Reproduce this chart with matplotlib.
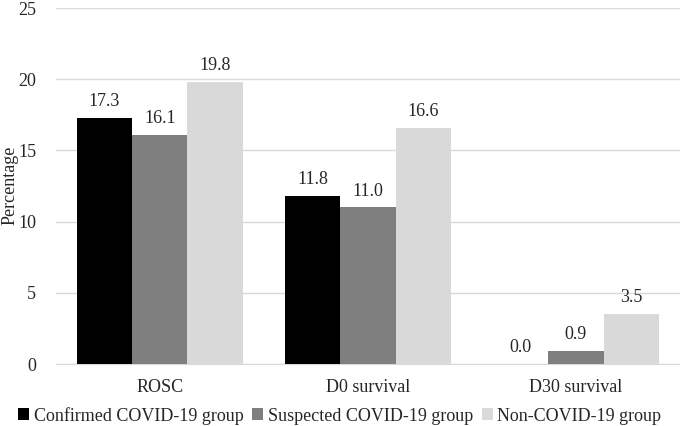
import numpy as np
import matplotlib.pyplot as plt

categories = ["ROSC", "D0 survival", "D30 survival"]
groups = ["Confirmed COVID-19 group", "Suspected COVID-19 group", "Non-COVID-19 group"]
confirmed = [17.3, 11.8, 0.0]
suspected = [16.1, 11.0, 0.9]
non_covid = [19.8, 16.6, 3.5]
colors = ["#000000", "#7f7f7f", "#d9d9d9"]

plt.rcParams['font.family'] = ['Liberation Serif']
fs = 13

fig = plt.figure(figsize=(6.8, 4.26), dpi=100)
ax = fig.add_axes([0.082, 0.1455, 0.918, 0.8355])

x = np.arange(len(categories))
w = 0.266
for i, (vals, name) in enumerate(zip([confirmed, suspected, non_covid], groups)):
    pos = x + (i - 1) * w
    bars = ax.bar(pos, vals, w, color=colors[i], label=name, zorder=3)
    for b, v in zip(bars, vals):
        ax.text(b.get_x() + b.get_width() / 2, v + 0.55, f"{v:.1f}",
                ha="center", va="bottom", fontsize=fs, color="#262626")

ax.set_xlim(-0.5, 2.5)
ax.set_ylim(0, 25)
ax.set_yticks([0, 5, 10, 15, 20, 25])
ax.set_xticks(x)
ax.set_xticklabels(categories)
ax.grid(axis="y", color="#d9d9d9", lw=1, zorder=0)
for s in ["top", "right", "left"]:
    ax.spines[s].set_visible(False)
ax.spines["bottom"].set_color("#d9d9d9")
ax.tick_params(axis="both", length=0, labelsize=fs, colors="#262626")
ax.tick_params(axis="x", pad=11)
ax.tick_params(axis="y", pad=14)
fig.text(0.015, 1 - 185 / 426, "Percentage", rotation=90, ha="center", va="center",
         fontsize=fs, color="#262626")

ax.legend(loc="center", bbox_to_anchor=(0.455, -0.145), ncol=3, frameon=False,
          fontsize=fs, handlelength=0.6, handleheight=0.6, handletextpad=0.25,
          columnspacing=0.5, labelcolor="#262626", borderaxespad=0)

fig.savefig("out.png", dpi=100)
